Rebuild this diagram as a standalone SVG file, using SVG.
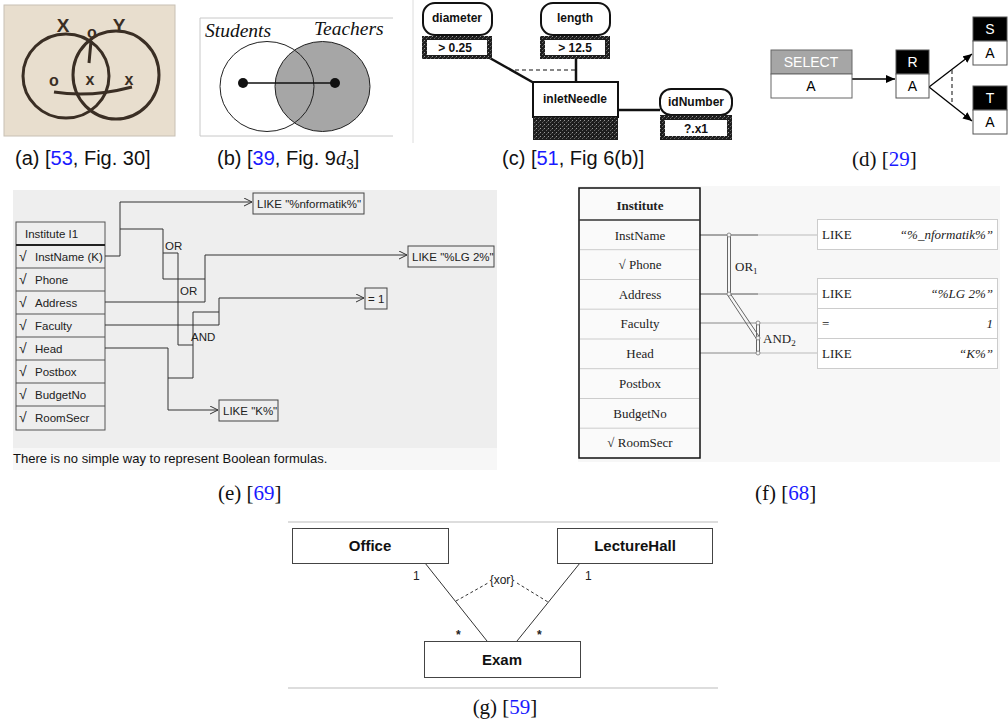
<svg xmlns="http://www.w3.org/2000/svg" width="1008" height="722" viewBox="0 0 1008 722">
<style>
.cap{font-family:"Liberation Sans",Arial,sans-serif;font-size:20px;fill:#111}
.caps{font-family:"Liberation Serif","Times New Roman",serif;font-size:21px;fill:#111}
.lnk{fill:#1a1aff}
.hand{font-family:"Liberation Sans",Arial,sans-serif;font-weight:bold;fill:#3a2e24}
.cbold{font-family:"Liberation Sans",Arial,sans-serif;font-weight:bold;font-size:12px;fill:#111;text-anchor:middle}
.dbox{font-family:"Liberation Sans",Arial,sans-serif;font-size:14px;text-anchor:middle}
.et{font-family:"Liberation Sans",Arial,sans-serif;font-size:11.5px;fill:#222}
.ck{font-size:14px}
.ft{font-family:"Liberation Serif","Times New Roman",serif;font-size:13px;fill:#222;text-anchor:middle}
.fl{font-family:"Liberation Serif","Times New Roman",serif;font-size:13px;fill:#222}
.fi{font-family:"Liberation Serif","Times New Roman",serif;font-size:13px;font-style:italic;fill:#222;text-anchor:end}
.gt{font-family:"Liberation Sans",Arial,sans-serif;font-weight:bold;font-size:15px;fill:#111;text-anchor:middle}
.gs{font-family:"Liberation Sans",Arial,sans-serif;font-size:12px;fill:#222}
.eline{fill:none;stroke:#333;stroke-width:1}
.fdark{stroke:#555;stroke-width:1}
.flight{stroke:#bbb;stroke-width:1}
</style>
<defs>
<pattern id="stip" width="4" height="4" patternUnits="userSpaceOnUse">
<rect width="4" height="4" fill="#1e1e1e"/>
<rect x="0" y="0" width="1" height="1" fill="#999"/>
<rect x="2" y="2" width="1" height="1" fill="#666"/>
<rect x="3" y="1" width="1" height="1" fill="#444"/>
</pattern>
<marker id="open" markerWidth="9" markerHeight="9" refX="8" refY="4" orient="auto" markerUnits="userSpaceOnUse">
<path d="M0,0 L8,4 L0,8" fill="none" stroke="#333" stroke-width="1"/>
</marker>
<marker id="solid" markerWidth="10" markerHeight="10" refX="9" refY="4" orient="auto" markerUnits="userSpaceOnUse">
<path d="M0,0 L9,4 L0,8 Z" fill="#000"/>
</marker>
</defs>
<rect width="1008" height="722" fill="#fff"/>

<!-- (a) -->
<g id="panel-a">
<rect x="4" y="5" width="171" height="131" fill="#e8dece" stroke="#c8c0b4" stroke-width="1"/>
<g fill="none" stroke="#3a2e24" stroke-width="3">
<ellipse cx="66" cy="76" rx="43" ry="42"/>
<ellipse cx="116" cy="75" rx="43" ry="44"/>
<path d="M91,41 L89,63"/>
<path d="M54,92 Q90,98 132,87"/>
</g>
<text class="hand" x="63" y="32" font-size="19" text-anchor="middle">X</text>
<text class="hand" x="119" y="32" font-size="19" text-anchor="middle">Y</text>
<text class="hand" x="92" y="38" font-size="16" text-anchor="middle">o</text>
<text class="hand" x="54" y="86" font-size="16" text-anchor="middle">o</text>
<text class="hand" x="90" y="85" font-size="16" text-anchor="middle">x</text>
<text class="hand" x="129" y="85" font-size="16" text-anchor="middle">x</text>
</g>
<text class="cap" x="15" y="165">(a) [<tspan class="lnk">53</tspan>, Fig. 30]</text>

<!-- (b) -->
<g id="panel-b">
<path d="M393,18 H200 V136 H393" fill="none" stroke="#c8c8c8" stroke-width="1"/>
<line x1="413" y1="0" x2="413" y2="143" stroke="#dcdcdc" stroke-width="1"/>
<ellipse cx="322.5" cy="86.5" rx="47.5" ry="45" fill="#a6a6a6" stroke="#222" stroke-width="1"/>
<ellipse cx="267" cy="86.5" rx="47" ry="45" fill="none" stroke="#222" stroke-width="1"/>
<line x1="243" y1="83" x2="335" y2="83" stroke="#111" stroke-width="1.5"/>
<circle cx="243" cy="83" r="5" fill="#111"/>
<circle cx="335" cy="83" r="5" fill="#111"/>
<text x="205" y="37" font-family="Liberation Serif,serif" font-style="italic" font-size="19.5" fill="#111">Students</text>
<text x="314" y="35" font-family="Liberation Serif,serif" font-style="italic" font-size="19.5" fill="#111">Teachers</text>
</g>
<text class="cap" x="217" y="165">(b) [<tspan class="lnk">39</tspan>, Fig. 9<tspan font-family="Liberation Serif,serif" font-style="italic">d</tspan><tspan font-size="14" dy="4">3</tspan><tspan dy="-4">]</tspan></text>

<!-- (c) -->
<g id="c-connectors" fill="none" stroke="#111">
<line x1="488" y1="57" x2="534" y2="83" stroke-width="2.5"/>
<line x1="576" y1="59" x2="576" y2="82" stroke-width="2.5"/>
<line x1="515" y1="70" x2="576" y2="70" stroke-width="1.2" stroke-dasharray="4 3"/>
<line x1="618" y1="110" x2="660" y2="110" stroke-width="2.5"/>
</g>
<g id="c-diameter">
<rect x="423" y="3" width="69" height="32" rx="12" fill="#fff" stroke="#111" stroke-width="2"/>
<text class="cbold" x="457" y="22">diameter</text>
<rect x="422" y="36" width="70" height="23" fill="url(#stip)"/>
<rect x="427" y="40" width="60" height="15" fill="#fff"/>
<text class="cbold" x="455" y="52">&gt; 0.25</text>
</g>
<g id="c-length">
<rect x="541" y="3" width="69" height="32" rx="12" fill="#fff" stroke="#111" stroke-width="2"/>
<text class="cbold" x="575" y="22">length</text>
<rect x="540" y="36" width="70" height="23" fill="url(#stip)"/>
<rect x="545" y="40" width="60" height="15" fill="#fff"/>
<text class="cbold" x="575" y="52">&gt; 12.5</text>
</g>
<g id="c-inletNeedle">
<rect x="533" y="82" width="85" height="35" fill="#fff" stroke="#111" stroke-width="2"/>
<rect x="533" y="117" width="85" height="23" fill="url(#stip)"/>
<text class="cbold" x="575" y="103">inletNeedle</text>
</g>
<g id="c-idNumber">
<rect x="660" y="89" width="72" height="26" rx="11" fill="#fff" stroke="#111" stroke-width="2"/>
<text class="cbold" x="696" y="106">idNumber</text>
<rect x="660" y="115" width="72" height="25" fill="url(#stip)"/>
<rect x="665" y="120" width="62" height="16" fill="#fff"/>
<text class="cbold" x="696" y="133">?.x1</text>
</g>
<text class="cap" x="502" y="165">(c) [<tspan class="lnk">51</tspan>, Fig 6(b)]</text>

<!-- (d) -->
<g id="d-connectors" fill="none" stroke="#000" stroke-width="1.3">
<line x1="852" y1="79" x2="895" y2="79" marker-end="url(#solid)"/>
<line x1="929" y1="87" x2="972" y2="54" marker-end="url(#solid)"/>
<line x1="929" y1="87" x2="972" y2="121" marker-end="url(#solid)"/>
<line x1="952" y1="70" x2="952" y2="103" stroke="#444" stroke-dasharray="4 3"/>
</g>
<g id="d-select">
<rect x="771" y="50" width="81" height="24" fill="#a6a6a6" stroke="#666"/>
<rect x="771" y="74" width="81" height="24" fill="#fff" stroke="#666"/>
<text class="dbox" x="811" y="67" fill="#fff">SELECT</text>
<text class="dbox" x="811" y="91" fill="#000">A</text>
</g>
<g id="d-R">
<rect x="896" y="50" width="33" height="24" fill="#000" stroke="#555"/>
<rect x="896" y="74" width="33" height="24" fill="#fff" stroke="#555"/>
<text class="dbox" x="912.5" y="67" fill="#fff">R</text>
<text class="dbox" x="912.5" y="91" fill="#000">A</text>
</g>
<g id="d-S">
<rect x="973" y="17" width="34" height="24" fill="#000" stroke="#555"/>
<rect x="973" y="41" width="34" height="24" fill="#fff" stroke="#555"/>
<text class="dbox" x="990" y="34" fill="#fff">S</text>
<text class="dbox" x="990" y="58" fill="#000">A</text>
</g>
<g id="d-T">
<rect x="973" y="86" width="34" height="24" fill="#000" stroke="#555"/>
<rect x="973" y="110" width="34" height="24" fill="#fff" stroke="#555"/>
<text class="dbox" x="990" y="103" fill="#fff">T</text>
<text class="dbox" x="990" y="127" fill="#000">A</text>
</g>
<text class="caps" x="852" y="166">(d) [<tspan class="lnk">29</tspan>]</text>

<!-- (e) -->
<g id="panel-e">
<rect x="13" y="190" width="484" height="258" fill="#eeeeee"/>
<rect x="13" y="448" width="484" height="22" fill="#f7f7f7"/>
<text x="13" y="463" font-family="Liberation Sans,Arial,sans-serif" font-size="13" fill="#111">There is no simple way to represent Boolean formulas.</text>
</g>
<g id="e-table">
<rect x="16" y="222" width="89" height="208" fill="#eeeeee" stroke="#555" stroke-width="1"/>
<line x1="16" y1="245" x2="105" y2="245" stroke="#222" stroke-width="2"/>
<g stroke="#555" stroke-width="1">
<line x1="16" y1="268" x2="105" y2="268"/><line x1="16" y1="291" x2="105" y2="291"/>
<line x1="16" y1="314" x2="105" y2="314"/><line x1="16" y1="337" x2="105" y2="337"/>
<line x1="16" y1="360" x2="105" y2="360"/><line x1="16" y1="383" x2="105" y2="383"/>
<line x1="16" y1="406" x2="105" y2="406"/>
</g>
<text class="et" x="25" y="238">Institute I1</text>
<text class="et" x="19" y="261"><tspan class="ck">√</tspan><tspan x="35">InstName (K)</tspan></text>
<text class="et" x="19" y="284"><tspan class="ck">√</tspan><tspan x="35">Phone</tspan></text>
<text class="et" x="19" y="307"><tspan class="ck">√</tspan><tspan x="35">Address</tspan></text>
<text class="et" x="19" y="330"><tspan class="ck">√</tspan><tspan x="35">Faculty</tspan></text>
<text class="et" x="19" y="353"><tspan class="ck">√</tspan><tspan x="35">Head</tspan></text>
<text class="et" x="19" y="376"><tspan class="ck">√</tspan><tspan x="35">Postbox</tspan></text>
<text class="et" x="19" y="399"><tspan class="ck">√</tspan><tspan x="35">BudgetNo</tspan></text>
<text class="et" x="19" y="422"><tspan class="ck">√</tspan><tspan x="35">RoomSecr</tspan></text>
</g>
<g id="e-connectors" class="eline">
<path d="M105,256 H120 V202 H252" marker-end="url(#open)"/>
<path d="M120,229 H163 V279 H205"/>
<path d="M163,253 H178 V345 H193"/>
<path d="M105,302 H205 V255 H407" marker-end="url(#open)"/>
<path d="M193,312 V378"/>
<path d="M193,312 H219"/>
<path d="M105,325 H219 V298 H364" marker-end="url(#open)"/>
<path d="M105,348 H168 V410 H218" marker-end="url(#open)"/>
<path d="M168,378 H193"/>
<text class="et" x="165" y="250" stroke="none">OR</text>
<text class="et" x="180" y="295" stroke="none">OR</text>
<text class="et" x="191" y="341" stroke="none">AND</text>
</g>
<g id="e-like1"><rect x="253" y="193" width="111" height="21" fill="#eee" stroke="#444"/><text class="et" x="257" y="208">LIKE "%nformatik%"</text></g>
<g id="e-like2"><rect x="408" y="246" width="86" height="21" fill="#eee" stroke="#444"/><text class="et" x="412" y="261">LIKE "%LG 2%"</text></g>
<g id="e-eq"><rect x="365" y="288" width="22" height="21" fill="#eee" stroke="#444"/><text class="et" x="368" y="303">= 1</text></g>
<g id="e-like3"><rect x="219" y="400" width="59" height="21" fill="#eee" stroke="#444"/><text class="et" x="223" y="415">LIKE "K%"</text></g>
<text class="caps" x="218" y="500">(e) [<tspan class="lnk">69</tspan>]</text>

<!-- (f) -->
<g id="panel-f">
<rect x="578" y="186" width="422" height="276" fill="#f7f7f7"/>
</g>
<g id="f-connectors" fill="none">
<line x1="700" y1="235" x2="758" y2="235" class="fdark"/><line x1="758" y1="235" x2="818" y2="235" class="flight"/>
<line x1="700" y1="294" x2="758" y2="294" class="fdark"/><line x1="758" y1="294" x2="818" y2="294" class="flight"/>
<line x1="700" y1="323" x2="758" y2="323" stroke="#888"/><line x1="758" y1="323" x2="818" y2="323" class="flight"/>
<line x1="700" y1="353" x2="758" y2="353" stroke="#888"/><line x1="758" y1="353" x2="818" y2="353" class="flight"/>
<g stroke="#666" stroke-width="1">
<line x1="727.5" y1="235" x2="727.5" y2="294"/><line x1="730.5" y1="235" x2="730.5" y2="294"/>
<line x1="727.5" y1="295" x2="756.5" y2="339"/><line x1="730.5" y1="294" x2="759.5" y2="337"/>
<line x1="756.5" y1="323" x2="756.5" y2="353"/><line x1="759.5" y1="323" x2="759.5" y2="353"/>
</g>
<g fill="#f7f7f7" stroke="#777" stroke-width="0.8">
<circle cx="729" cy="235" r="2"/><circle cx="729" cy="294" r="2"/>
<circle cx="758" cy="323" r="2"/><circle cx="758" cy="338" r="2"/><circle cx="758" cy="353" r="2"/>
</g>
<text class="fl" x="735" y="271">OR<tspan font-size="9" dy="3">1</tspan></text>
<text class="fl" x="763" y="343">AND<tspan font-size="9" dy="3">2</tspan></text>
</g>
<g id="f-table">
<rect x="579" y="188" width="121" height="270" fill="#fafafa" stroke="#111" stroke-width="1.5"/>
<line x1="579" y1="220" x2="700" y2="220" stroke="#333" stroke-width="1.5"/>
<g stroke="#ccc" stroke-width="1">
<line x1="580" y1="249.7" x2="699" y2="249.7"/><line x1="580" y1="279.5" x2="699" y2="279.5"/>
<line x1="580" y1="309.2" x2="699" y2="309.2"/><line x1="580" y1="339" x2="699" y2="339"/>
<line x1="580" y1="368.7" x2="699" y2="368.7"/><line x1="580" y1="398.5" x2="699" y2="398.5"/>
<line x1="580" y1="428.2" x2="699" y2="428.2"/>
</g>
<text class="ft" x="640" y="210" font-weight="bold">Institute</text>
<text class="ft" x="640" y="240">InstName</text>
<text class="ft" x="640" y="269">√ Phone</text>
<text class="ft" x="640" y="299">Address</text>
<text class="ft" x="640" y="328">Faculty</text>
<text class="ft" x="640" y="358">Head</text>
<text class="ft" x="640" y="388">Postbox</text>
<text class="ft" x="640" y="418">BudgetNo</text>
<text class="ft" x="640" y="447">√ RoomSecr</text>
</g>
<g id="f-like1">
<rect x="817.5" y="219.5" width="180" height="30" fill="#fff" stroke="#ccc"/>
<text class="fl" x="822" y="239">LIKE</text><text class="fi" x="993" y="239">“%_nformatik%”</text>
</g>
<g id="f-like2">
<rect x="817.5" y="278.5" width="180" height="90" fill="#fff" stroke="#ccc"/>
<line x1="818" y1="308.5" x2="997" y2="308.5" stroke="#ccc"/>
<line x1="818" y1="338.5" x2="997" y2="338.5" stroke="#ccc"/>
<text class="fl" x="822" y="298">LIKE</text><text class="fi" x="993" y="298">“%LG 2%”</text>
<text class="fl" x="822" y="328" fill="#999">=</text><text class="fi" x="993" y="328">1</text>
<text class="fl" x="822" y="358">LIKE</text><text class="fi" x="993" y="358">“K%”</text>
</g>
<text class="caps" x="755" y="500">(f) [<tspan class="lnk">68</tspan>]</text>

<!-- (g) -->
<line x1="288" y1="522" x2="718" y2="522" stroke="#bbb"/>
<line x1="288" y1="688" x2="718" y2="688" stroke="#bbb"/>
<g id="g-connectors" fill="none" stroke="#333" stroke-width="1">
<line x1="425" y1="563" x2="487" y2="641"/>
<line x1="580" y1="563" x2="517" y2="641"/>
<path d="M456,601 L488,583" stroke-dasharray="3 2.5"/>
<path d="M517,583 L548,602" stroke-dasharray="3 2.5"/>
</g>
<text class="gs" x="502" y="584" text-anchor="middle" font-size="11">{xor}</text>
<text class="gs" x="413" y="580">1</text>
<text class="gs" x="585" y="580">1</text>
<text class="gs" x="456" y="639" font-weight="bold" font-size="15">*</text>
<text class="gs" x="537" y="639" font-weight="bold" font-size="15">*</text>
<g id="g-office"><rect x="292.5" y="528.5" width="156" height="35" fill="#fff" stroke="#444"/><text class="gt" x="370" y="551">Office</text></g>
<g id="g-lecturehall"><rect x="557.5" y="528.5" width="155" height="35" fill="#fff" stroke="#444"/><text class="gt" x="635" y="551">LectureHall</text></g>
<g id="g-exam"><rect x="424.5" y="641.5" width="156" height="36" fill="#fff" stroke="#444"/><text class="gt" x="502" y="665">Exam</text></g>
<text class="caps" x="505" y="714" text-anchor="middle">(g) [<tspan class="lnk">59</tspan>]</text>
</svg>
